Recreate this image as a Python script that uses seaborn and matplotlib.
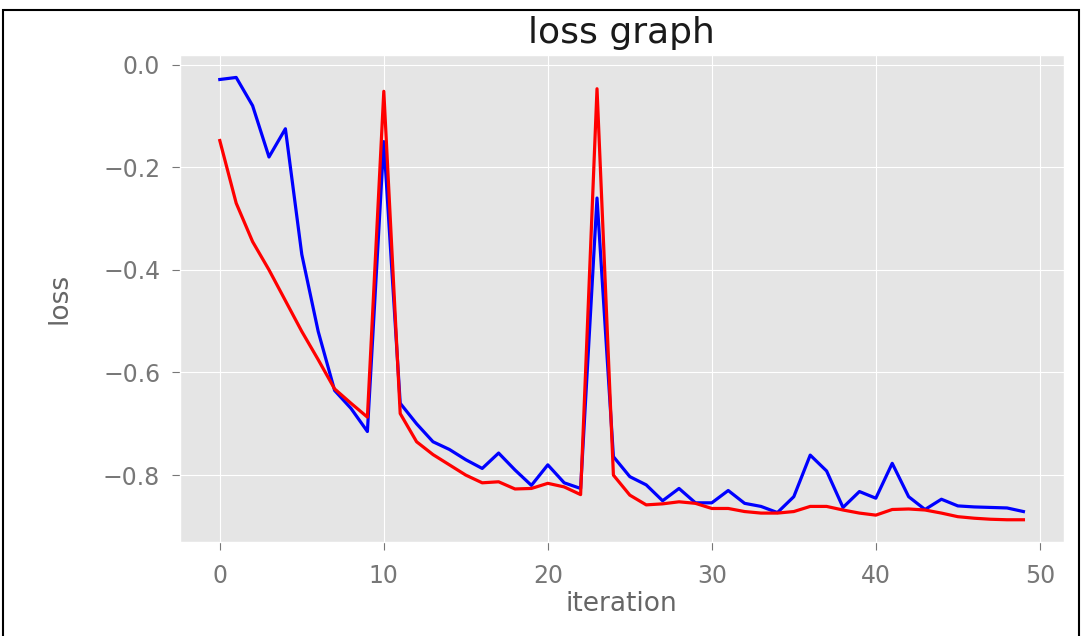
import matplotlib
matplotlib.use("Agg")
import matplotlib.pyplot as plt
from matplotlib.patches import Rectangle
import seaborn as sns
import pandas as pd

iterations = list(range(50))

blue_loss = [
    -0.029, -0.025, -0.080, -0.180, -0.125, -0.370, -0.520, -0.635, -0.670, -0.715,
    -0.150, -0.660, -0.700, -0.735, -0.750, -0.770, -0.787, -0.757, -0.790, -0.820,
    -0.780, -0.815, -0.826, -0.260, -0.764, -0.803, -0.819, -0.850, -0.826, -0.854,
    -0.854, -0.830, -0.855, -0.861, -0.873, -0.842, -0.761, -0.792, -0.863, -0.832,
    -0.845, -0.777, -0.842, -0.867, -0.847, -0.860, -0.862, -0.863, -0.864, -0.871,
]

red_loss = [
    -0.148, -0.270, -0.345, -0.400, -0.460, -0.520, -0.575, -0.632, -0.660, -0.687,
    -0.052, -0.680, -0.735, -0.760, -0.780, -0.800, -0.815, -0.813, -0.827, -0.826,
    -0.816, -0.823, -0.838, -0.047, -0.800, -0.839, -0.858, -0.856, -0.852, -0.855,
    -0.865, -0.865, -0.871, -0.874, -0.874, -0.871, -0.861, -0.861, -0.868, -0.874,
    -0.878, -0.867, -0.866, -0.868, -0.874, -0.881, -0.884, -0.886, -0.887, -0.887,
]

df = pd.DataFrame({"iteration": iterations, "blue": blue_loss, "red": red_loss})

plt.style.use("ggplot")
fig = plt.figure(figsize=(10.82, 6.36), dpi=100)
ax = fig.add_axes([0.166, 0.148, 0.817, 0.765])

sns.lineplot(data=df, x="iteration", y="blue", color="blue", linewidth=2.3, ax=ax)
sns.lineplot(data=df, x="iteration", y="red", color="red", linewidth=2.3, ax=ax)

ax.set_title("loss graph", fontsize=26, color="#1a1a1a", pad=9)
ax.set_xlabel("iteration", fontsize=19, color="#666666", labelpad=2)
ax.set_ylabel("loss", fontsize=19, color="#666666", labelpad=22)
ax.set_xticks([0, 10, 20, 30, 40, 50])
ax.set_yticks([0.0, -0.2, -0.4, -0.6, -0.8])
ax.tick_params(labelsize=17, colors="#777777", length=6)
ax.tick_params(axis="x", pad=10)
ax.tick_params(axis="y", pad=8)

# black frame round the picture
fig.patches.append(Rectangle((3 / 1082, -0.05), 1076 / 1082, 1 - 10 / 636 + 0.05,
                             transform=fig.transFigure, fill=False,
                             edgecolor="black", linewidth=1.5))

fig.savefig("out.png", dpi=100)
